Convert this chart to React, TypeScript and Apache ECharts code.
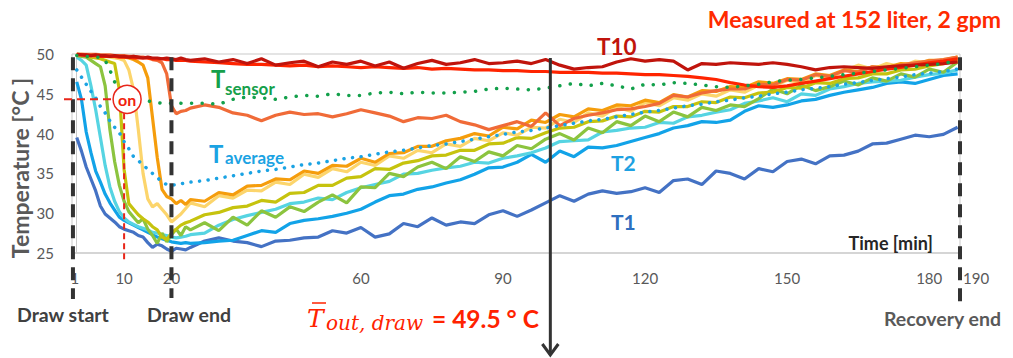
import React, { useEffect, useRef } from "react";
import * as echarts from "echarts";

// Time axis (minutes): every minute through the draw, then every 3 minutes during recovery
const TIME = [
  0, 1, 2, 3, 4, 5, 6, 7, 8, 9, 10, 11, 12, 13, 14, 15, 16, 17, 18, 19, 20, 21, 22, 23, 24,
  27, 30, 33, 36, 39, 42, 45, 48, 51, 54, 57, 60, 63, 66, 69, 72, 75, 78, 81, 84, 87, 90,
  93, 96, 99, 102, 105, 108, 111, 114, 117, 120, 123, 126, 129, 132, 135, 138, 141, 144,
  147, 150, 153, 156, 159, 162, 165, 168, 171, 174, 177, 180, 183, 186,
];

// Tank thermocouples, bottom (T1) to top (T10), in °C
const T1 = [
  39.5, 37.8, 35.8, 34.3, 32.8, 30.9, 29.9, 29.4, 28.9, 28.3, 28.0, 27.8, 27.6, 27.2, 27.0, 26.3, 25.7, 26.1, 25.9, 25.5, 25.2, 25.6, 25.5, 25.4, 25.7,
  26.5, 26.9, 26.5, 26.3, 25.8, 26.5, 26.6, 26.9, 27.0, 27.8, 27.5, 28.2, 27.0, 27.4, 28.7, 28.3, 29.4, 28.5, 28.9, 28.7,
  29.8, 30.3, 29.6, 30.4, 31.3, 32.2, 31.5, 32.4, 32.8, 32.5, 32.7, 33.2, 32.6, 34.1, 34.3, 33.6, 35.3, 35.0, 34.3, 35.6,
  35.2, 36.5, 36.8, 36.2, 37.2, 37.3, 37.8, 38.7, 38.8, 39.3, 39.8, 39.6, 39.9, 40.8,
];
const T2 = [
  46.5, 44.3, 40.2, 37.6, 35.3, 33.9, 32.4, 31.3, 30.4, 29.5, 29.1, 28.8, 28.5, 28.2, 27.9, 27.6, 27.3, 27.0, 26.8, 26.6, 26.4, 26.3, 26.2, 26.3, 26.2,
  26.3, 26.5, 26.6, 27.2, 27.8, 27.6, 28.7, 29.1, 29.3, 29.6, 30.0, 30.5, 31.4, 32.2, 32.4, 33.0, 33.3, 33.8, 34.2, 34.9,
  35.7, 35.8, 36.4, 37.4, 36.4, 37.8, 37.1, 38.3, 38.2, 38.5, 39.0, 39.5, 40.0, 40.7, 41.0, 41.5, 41.4, 41.7, 42.8, 43.5,
  43.3, 43.6, 44.1, 44.3, 44.8, 45.2, 45.5, 45.8, 46.3, 46.5, 46.3, 46.8, 47.3, 47.5,
];
const T3 = [
  49.6, 49.2, 48.6, 46.0, 43.0, 39.5, 36.0, 33.3, 31.5, 30.2, 29.4, 28.9, 28.6, 28.3, 28.1, 27.9, 27.6, 27.5, 27.3, 27.2, 27.0, 26.9, 27.0, 27.1, 27.3,
  27.5, 28.5, 29.2, 29.7, 30.1, 30.5, 31.2, 31.4, 31.9, 31.7, 32.6, 33.2, 33.6, 34.0, 34.9, 35.0, 35.4, 35.7, 35.9, 36.4,
  36.3, 36.9, 37.2, 37.6, 38.2, 39.0, 39.1, 39.2, 40.2, 40.4, 40.7, 40.8, 41.4, 41.3, 42.1, 42.3, 42.7, 43.0, 43.8, 44.1,
  44.5, 44.0, 45.0, 44.8, 45.6, 45.9, 46.3, 46.5, 46.6, 46.7, 47.1, 47.4, 47.6, 48.0,
];
const T4 = [
  49.8, 49.7, 49.6, 49.2, 48.8, 48.4, 46.0, 40.5, 36.5, 33.5, 31.5, 30.2, 29.5, 28.8, 29.3, 28.0, 27.2, 26.2, 27.5, 26.4, 27.3, 28.0, 27.2, 28.3, 27.9,
  28.8, 27.8, 29.5, 28.5, 30.3, 29.5, 30.8, 30.2, 31.4, 32.3, 31.3, 33.3, 33.2, 35.0, 34.6, 35.8, 36.4, 35.6, 37.1, 36.5,
  37.7, 37.2, 38.5, 38.1, 39.3, 40.0, 39.2, 40.7, 40.1, 41.5, 41.0, 42.2, 41.5, 42.7, 42.1, 43.3, 42.9, 43.6, 43.4, 44.4,
  45.6, 45.0, 46.1, 45.4, 45.9, 46.6, 46.1, 47.0, 46.6, 47.5, 47.1, 48.1, 47.7, 49.0,
];
const T5 = [
  50.0, 49.9, 49.8, 49.6, 49.5, 49.4, 49.2, 49.0, 48.8, 45.5, 35.5, 31.2, 30.5, 29.8, 29.3, 28.9, 28.3, 27.9, 27.0, 26.7, 27.5, 28.0, 28.5, 28.8, 29.0,
  29.8, 30.1, 30.7, 30.9, 31.6, 31.4, 32.5, 32.6, 33.5, 33.5, 34.4, 34.6, 35.6, 35.5, 36.3, 36.6, 37.2, 37.3, 37.9, 37.9,
  38.7, 38.8, 39.5, 39.4, 40.1, 40.7, 40.8, 41.5, 41.6, 42.2, 42.1, 42.8, 42.7, 43.4, 43.4, 44.0, 43.9, 44.6, 44.5, 45.1,
  45.2, 45.8, 45.7, 46.4, 46.3, 46.9, 47.0, 47.5, 47.5, 48.0, 48.1, 48.5, 48.8, 49.2,
];
const T6 = [
  50.0, 49.9, 49.9, 49.8, 49.8, 49.7, 49.7, 49.6, 49.5, 49.4, 49.2, 48.0, 45.5, 40.5, 35.0, 31.8, 30.8, 31.2, 30.5, 29.8, 28.9, 29.4, 29.9, 30.6, 31.3,
  30.8, 32.2, 31.9, 32.9, 32.8, 33.9, 33.6, 34.9, 34.5, 35.6, 35.2, 36.4, 36.0, 37.2, 36.9, 37.9, 37.6, 38.7, 38.4, 39.4,
  39.1, 40.1, 39.8, 40.8, 40.7, 41.8, 41.4, 42.6, 42.2, 43.3, 42.8, 43.9, 43.5, 44.5, 44.2, 45.0, 44.7, 45.5, 45.2, 46.1,
  45.9, 46.7, 46.4, 47.3, 47.0, 47.9, 48.6, 48.1, 48.8, 48.4, 49.1, 48.9, 49.3, 49.6,
];
const T7 = [
  50.0, 50.0, 49.9, 49.9, 49.9, 49.8, 49.8, 49.8, 49.7, 49.7, 49.6, 49.5, 49.3, 49.0, 48.6, 47.0, 42.0, 37.0, 33.0, 32.1, 31.8, 31.2, 31.6, 31.1, 31.7,
  31.5, 32.6, 32.3, 33.4, 33.5, 34.3, 34.2, 35.3, 35.0, 36.0, 35.9, 36.9, 36.4, 37.5, 37.6, 38.4, 38.4, 39.1, 39.4, 40.0,
  39.7, 40.8, 40.6, 41.7, 41.4, 42.4, 42.1, 43.1, 42.9, 43.6, 43.5, 44.2, 43.9, 44.9, 44.6, 45.4, 45.3, 45.9, 45.8, 46.5,
  46.3, 46.9, 46.8, 47.5, 47.3, 48.0, 47.8, 48.4, 48.3, 48.8, 48.7, 49.2, 49.2, 49.6,
];
const T8 = [
  50.0, 50.0, 50.0, 50.0, 50.0, 49.9, 49.9, 49.9, 49.8, 49.8, 49.8, 49.7, 49.7, 49.6, 49.6, 49.5, 49.3, 49.2, 48.9, 47.5, 43.5, 42.5, 42.8, 42.9, 43.2,
  43.6, 43.3, 42.6, 42.3, 41.6, 42.3, 42.7, 42.4, 42.5, 42.1, 42.5, 43.0, 42.6, 42.2, 41.5, 42.0, 41.9, 42.3, 41.5, 41.1,
  40.5, 41.0, 41.5, 40.9, 42.6, 41.0, 41.9, 42.3, 42.6, 43.0, 43.1, 43.4, 43.8, 44.8, 44.6, 45.1, 45.4, 45.6, 45.6, 46.2,
  46.1, 46.8, 46.7, 47.4, 47.2, 47.9, 47.7, 48.4, 48.2, 48.6, 48.9, 49.1, 49.3, 49.6,
];
const T9 = [
  49.9, 49.9, 49.8, 49.8, 49.8, 49.7, 49.7, 49.7, 49.7, 49.6, 49.6, 49.6, 49.5, 49.5, 49.5, 49.5, 49.4, 49.4, 49.4, 49.3, 49.3, 49.2, 49.2, 49.2, 49.1,
  49.0, 48.9, 48.8, 48.7, 48.7, 48.6, 48.5, 48.6, 48.4, 48.5, 48.4, 48.3, 48.4, 48.3, 48.2, 48.3, 48.1, 48.2, 48.1, 48.0,
  48.0, 47.9, 47.9, 47.8, 47.8, 47.7, 47.7, 47.7, 47.6, 47.6, 47.5, 47.4, 47.4, 47.3, 47.2, 47.0, 46.8, 46.4, 46.1, 45.9,
  45.8, 46.0, 46.3, 46.6, 46.9, 47.2, 47.5, 47.8, 48.1, 48.3, 48.6, 48.9, 49.1, 49.4,
];
const T10 = [
  50.0, 49.9, 49.9, 49.8, 49.9, 49.8, 49.8, 49.7, 49.8, 49.7, 49.7, 49.6, 49.7, 49.6, 49.5, 49.6, 49.5, 49.5, 49.4, 49.5, 49.4, 49.3, 49.5, 49.3, 49.2,
  49.4, 49.0, 49.3, 48.8, 49.4, 48.6, 48.9, 49.1, 48.4, 49.0, 48.7, 49.1, 48.5, 49.0, 48.2, 48.8, 49.2, 48.7, 48.9, 49.3,
  48.8, 48.9, 49.1, 48.8, 49.3, 48.6, 48.1, 48.3, 48.4, 49.0, 49.4, 49.1, 49.3, 49.1, 48.0, 48.8, 48.7, 48.9, 48.8, 48.7,
  48.9, 48.7, 48.4, 48.0, 48.3, 48.4, 48.3, 48.2, 48.4, 48.5, 48.6, 48.7, 48.8, 49.0,
];
// Outlet-side sensor and the tank volume average
const T_SENSOR = [
  49.8, 49.8, 49.7, 49.7, 49.6, 49.6, 49.2, 48.0, 46.5, 45.5, 44.9, 44.6, 44.4, 44.3, 44.2, 44.1, 44.0, 43.9, 43.8, 43.8, 43.8, 43.9, 43.8, 43.8, 43.8,
  43.8, 43.7, 44.3, 44.6, 44.5, 44.3, 44.6, 44.8, 44.7, 45.0, 44.8, 44.8, 45.1, 45.2, 45.0, 45.2, 45.1, 45.1, 45.2, 45.3,
  45.6, 45.7, 45.6, 45.5, 45.7, 46.0, 46.3, 46.0, 46.3, 46.0, 45.6, 46.2, 46.1, 46.4, 46.3, 46.1, 45.9, 45.8, 46.0, 46.2,
  46.5, 46.7, 46.8, 47.0, 47.2, 47.4, 47.6, 47.8, 48.0, 48.2, 48.4, 48.6, 48.8, 49.2,
];
const T_AVERAGE = [
  48.0, 47.1, 46.2, 45.3, 44.5, 43.4, 42.6, 41.6, 40.8, 40.1, 39.0, 38.1, 37.1, 36.6, 36.1, 35.5, 35.0, 34.5, 33.9, 33.6, 33.5, 33.6, 33.7, 33.8, 33.9,
  34.1, 34.4, 34.7, 35.0, 35.3, 35.5, 35.8, 36.1, 36.3, 36.6, 36.9, 37.1, 37.4, 37.7, 37.9, 38.2, 38.5, 38.7, 39.0, 39.3,
  39.6, 39.9, 40.2, 40.4, 40.7, 41.0, 41.3, 41.6, 41.8, 42.1, 42.4, 42.7, 42.9, 43.2, 43.5, 43.7, 44.0, 44.2, 44.5, 44.7,
  45.0, 45.2, 45.5, 45.7, 45.9, 46.2, 46.4, 46.7, 46.9, 47.1, 47.4, 47.6, 47.8, 48.1,
];

const X_TICKS = [1, 10, 20, 60, 90, 120, 150, 180];
const DRAW_START = 1;
const DRAW_END = 20;
const RECOVERY_END = 190;
const SENSOR_ON_TIME = 10;
const SENSOR_ON_TEMP = 44.3;
const OUTLET_MEAN = 49.5;
const OUTLET_MARK_TIME = 100;

const TANK = [
  { name: "T1", data: T1, color: "#4472C4" },
  { name: "T2", data: T2, color: "#12A3E8" },
  { name: "T3", data: T3, color: "#56D4E2" },
  { name: "T4", data: T4, color: "#8CC43F" },
  { name: "T5", data: T5, color: "#C6C30E" },
  { name: "T6", data: T6, color: "#FCD56C" },
  { name: "T7", data: T7, color: "#F59D0C" },
  { name: "T8", data: T8, color: "#F06B38" },
  { name: "T9", data: T9, color: "#FF2400" },
  { name: "T10", data: T10, color: "#C0140C" },
];

const FONT = "Lato, 'Open Sans', sans-serif";
const X_MIN = -1;
const X_MAX = 186.5;

const pairs = (vals: number[]) => TIME.map((t, i) => [t, vals[i]]);

export default function App() {
  const ref = useRef<HTMLDivElement>(null);

  useEffect(() => {
    const chart = echarts.init(ref.current!, null, { renderer: "svg" });

    const series: any[] = TANK.map((s) => ({
      name: s.name,
      type: "line",
      data: pairs(s.data),
      showSymbol: false,
      lineStyle: { color: s.color, width: 3.2 },
      itemStyle: { color: s.color },
    }));
    series.push({
      name: "Tsensor",
      type: "line",
      data: pairs(T_SENSOR),
      showSymbol: false,
      z: 4,
      lineStyle: { color: "#13A04B", width: 3.5, type: [0.1, 10.5], cap: "round" },
    });
    series.push({
      name: "Taverage",
      type: "line",
      data: pairs(T_AVERAGE),
      showSymbol: false,
      z: 4,
      lineStyle: { color: "#1BA3E3", width: 3.5, type: [0.1, 8.5], cap: "round" },
    });

    chart.setOption({
      animation: false,
      backgroundColor: "#ffffff",
      grid: {
        left: 72,
        top: 54,
        width: 888,
        height: 199,
        show: true,
        borderColor: "#c9c9c9",
        borderWidth: 1,
      },
      xAxis: {
        type: "value",
        min: X_MIN,
        max: X_MAX,
        axisLine: { show: true, lineStyle: { color: "#d0d0d0", width: 1.5 } },
        axisTick: { show: false },
        splitLine: { show: false },
        axisLabel: {
          customValues: X_TICKS.map((v) => (v === DRAW_START ? -0.4 : v)),
          formatter: (v: number) => (v < 0 ? String(DRAW_START) : String(v)),
          color: "#595959",
          fontSize: 15,
          fontFamily: FONT,
          margin: 17,
        },
      },
      yAxis: {
        type: "value",
        min: 25,
        max: 50,
        interval: 5,
        axisLine: { show: true, lineStyle: { color: "#c9c9c9" } },
        axisTick: { show: false },
        splitLine: { show: false },
        axisLabel: { color: "#595959", fontSize: 15, fontFamily: FONT, margin: 18 },
      },
      series,
    });

    const px = (t: number, v: number) =>
      chart.convertToPixel({ gridIndex: 0 }, [t, v]) as number[];

    const [xStart] = px(-0.8, 50);
    const [xEnd] = px(DRAW_END, 50);
    const [xRec, yTop] = px(X_MAX, 49.6);
    const [xOn, yOn] = px(SENSOR_ON_TIME, SENSOR_ON_TEMP);
    const [xArrow, yArrow] = px(OUTLET_MARK_TIME, OUTLET_MEAN);
    const [, yAxisBase] = px(0, 25);

    const dashed = (x: number, y2: number) => ({
      type: "line",
      z: 100,
      shape: { x1: x, y1: yTop, x2: x, y2 },
      style: { stroke: "#333333", lineWidth: 4, lineDash: [13, 8] },
    });
    // texts are positioned by their vertical centre
    const text = (
      x: number,
      y: number,
      str: string,
      size: number,
      color: string,
      opts: any = {}
    ) => ({
      type: "text",
      z: 110,
      x,
      y,
      rotation: opts.rotation ?? 0,
      style: {
        text: str,
        fill: color,
        fontSize: size,
        fontWeight: opts.weight ?? "bold",
        fontStyle: opts.style ?? "normal",
        fontFamily: opts.family ?? FONT,
        align: opts.align ?? "left",
        verticalAlign: "middle",
      },
    });

    const circleR = 14;
    const circleX = xOn + 3;
    const serif = "'DejaVu Serif', serif";

    chart.setOption({
      graphic: [
        // phase markers
        dashed(xStart, 299),
        dashed(xEnd, 298),
        dashed(xRec, 304),
        // heater "on" threshold
        {
          type: "line",
          z: 100,
          shape: { x1: 64, y1: yOn, x2: circleX - circleR, y2: yOn },
          style: { stroke: "#E8261A", lineWidth: 2, lineDash: [8, 5] },
        },
        {
          type: "line",
          z: 100,
          shape: { x1: xOn, y1: yOn + circleR, x2: xOn, y2: yAxisBase + 9 },
          style: { stroke: "#E8261A", lineWidth: 2, lineDash: [6, 4] },
        },
        {
          type: "circle",
          z: 105,
          shape: { cx: circleX, cy: yOn, r: circleR },
          style: { fill: "#ffffff", stroke: "#E8261A", lineWidth: 1.5 },
        },
        text(circleX, yOn, "on", 16, "#F01E0E", { align: "center" }),
        // mean outlet temperature marker
        {
          type: "line",
          z: 100,
          shape: { x1: xArrow, y1: yArrow, x2: xArrow, y2: 355 },
          style: { stroke: "#333333", lineWidth: 3 },
        },
        {
          type: "polyline",
          z: 100,
          shape: { points: [[xArrow - 8, 344], [xArrow, 355], [xArrow + 8, 344]] },
          style: { stroke: "#333333", lineWidth: 3, fill: null },
        },
        // axis names
        text(20, 168, "Temperature [°C ]", 23, "#595959", {
          align: "center",
          rotation: Math.PI / 2,
        }),
        text(933, 243, "Time [min]", 18, "#262626", { align: "right" }),
        text(xRec + 3, 278, String(RECOVERY_END), 15, "#595959", { weight: "normal" }),
        // phase labels
        text(17, 314, "Draw start", 19.5, "#404040"),
        text(147, 314, "Draw end", 19.5, "#404040"),
        text(1001, 318, "Recovery end", 19.5, "#595959", { align: "right" }),
        // series labels
        text(597, 46, "T10", 22.5, "#C0140C"),
        text(611, 162, "T2", 21, "#1DA1E2"),
        text(611, 221, "T1", 21, "#2E6FBF"),
        text(211, 78, "T", 24, "#15A04A"),
        text(225, 88, "sensor", 17, "#15A04A"),
        text(209, 153, "T", 24, "#1BA3E3"),
        text(225, 157, "average", 17, "#1BA3E3"),
        // title note
        text(1001, 19, "Measured at 152 liter, 2 gpm", 23, "#FF2A00", { align: "right" }),
        // mean outlet formula
        text(307, 318, "T", 25, "#FF2200", { family: serif, style: "italic", weight: "normal" }),
        {
          type: "line",
          z: 110,
          shape: { x1: 312, y1: 303, x2: 326, y2: 303 },
          style: { stroke: "#FF2200", lineWidth: 1.5 },
        },
        text(326, 323, "out, draw", 20, "#FF2200", { family: serif, style: "italic", weight: "normal" }),
        text(432, 318, "= 49.5 ° C", 24.5, "#FF2200"),
      ],
    });

    return () => chart.dispose();
  }, []);

  return (
    <div
      ref={ref}
      style={{ position: "absolute", left: 0, top: 0, width: 1013, height: 358 }}
    />
  );
}
